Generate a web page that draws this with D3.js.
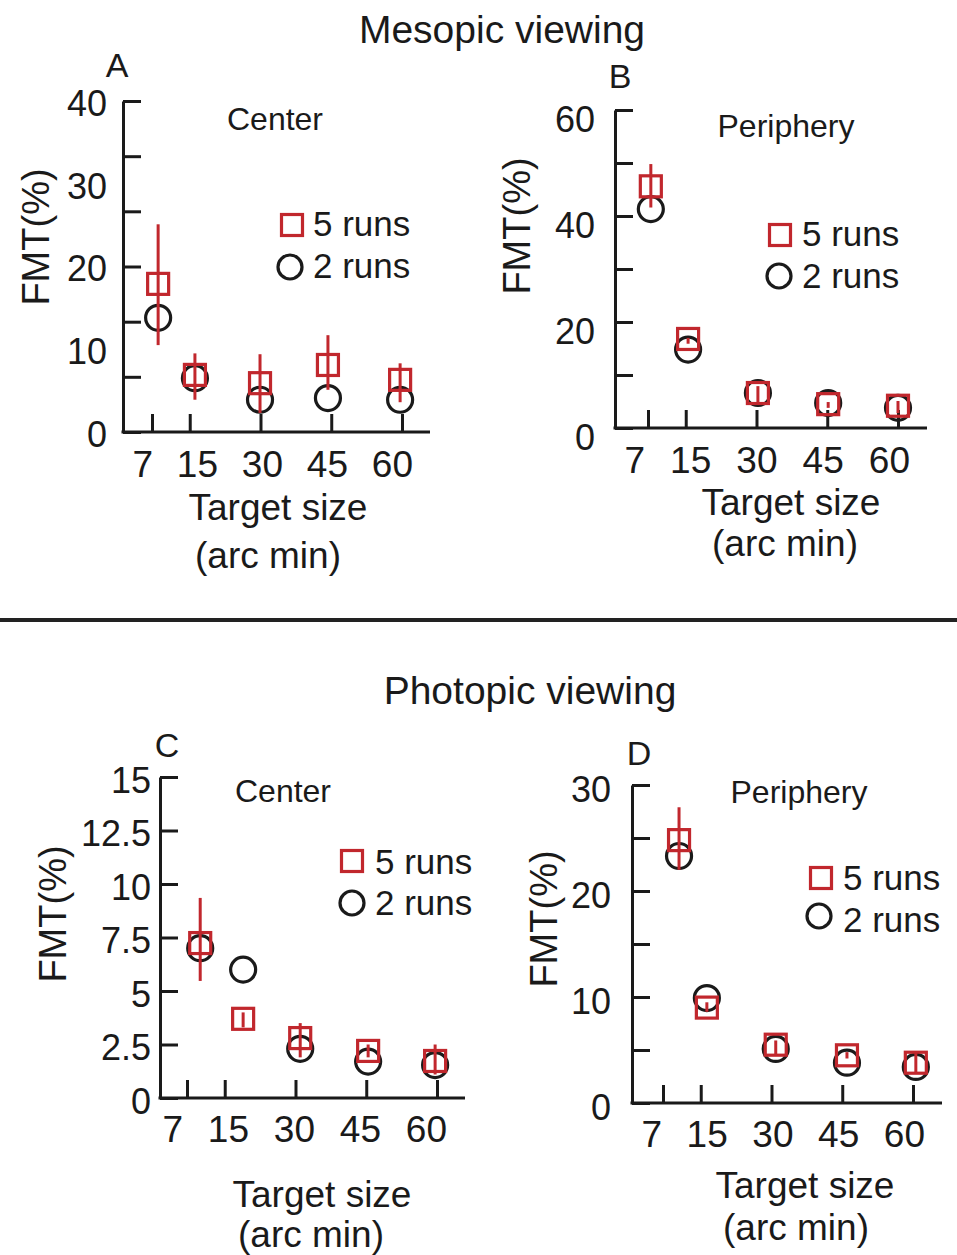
<!DOCTYPE html>
<html lang="en">
  <head>
    <meta charset="UTF-8" />
    <title>FMT vs target size</title>
    <script src="https://d3js.org/d3.v7.min.js"></script>
    <style>
      body { margin: 0; background: #fff; }
      svg text { font-family: 'Liberation Sans', Arial, Helvetica, sans-serif; fill: #1a1a1a; }
    </style>
  </head>
  <body>
    <div id="chart"></div>
    <script>
      // target sizes (arc min) and their tick labels
      const sizes = [7, 15, 30, 45, 60];
      const sizeLabels = ['7', '15', '30', '45', '60'];

      // A: mesopic, center
      const aFive = [17.9, 6.9, 5.9, 8.1, 6.3];
      const aFiveHi = [25.1, 9.5, 9.4, 11.7, 8.3];
      const aFiveLo = [10.5, 3.9, 2.3, 5.1, 3.6];
      const aTwo = [13.8, 6.5, 3.9, 4.1, 3.9];
      const aShownX = [8.3, 16.1, 29.9, 44.3, 59.6];
      const aTicks = [0, 6.67, 13.33, 20, 26.67, 33.33, 40];
      const aLabels = ['0', '10', '20', '30', '40'];

      // B: mesopic, periphery
      const bFive = [45.6, 16.8, 6.6, 4.5, 4.2];
      const bFiveHi = [49.8, 17.0, 7.9, 4.9, 5.1];
      const bFiveLo = [41.6, 15.9, 4.7, 3.8, 2.8];
      const bTwo = [41.3, 14.8, 6.6, 4.7, 3.8];
      const bShownX = [7.6, 15.5, 30.3, 45.2, 60];
      const bTicks = [0, 10, 20, 30, 40, 50, 60];
      const bLabels = ['0', '20', '40', '60'];

      // C: photopic, center
      const cFive = [7.24, 3.7, 2.8, 2.2, 1.73];
      const cFiveHi = [9.35, 4.0, 3.5, 2.5, 2.5];
      const cFiveLo = [5.47, 3.3, 1.9, 1.9, 1.1];
      const cTwo = [7.0, 6.0, 2.3, 1.7, 1.54];
      const cShownX = [9.8, 18.9, 31.0, 45.4, 59.6];
      const cTicks = [0, 2.5, 5, 7.5, 10, 12.5, 15];
      const cLabels = ['0', '2.5', '5', '7.5', '10', '12.5', '15'];

      // D: photopic, periphery
      const dFive = [24.8, 9.0, 5.5, 4.5, 3.8];
      const dFiveHi = [27.9, 9.5, 5.9, 4.8, 4.7];
      const dFiveLo = [22.0, 8.6, 4.5, 4.2, 2.9];
      const dTwo = [23.3, 9.9, 5.1, 3.8, 3.4];
      const dShownX = [10.4, 16.3, 30.9, 46.0, 60.6];
      const dTicks = [0, 5, 10, 15, 20, 25, 30];
      const dLabels = ['0', '10', '20', '30'];

      const red = '#c1272d';
      const ink = '#1a1a1a';

      const panels = [
        {
          letter: 'A', sub: 'Center', five: aFive, hi: aFiveHi, lo: aFiveLo, two: aTwo,
          shownX: aShownX, ticks: aTicks, labels: aLabels, yMax: 40,
          left: 123, bottom: 432, top: 101, right: 430, x7: 152, x60: 402,
          yLabRight: 107, yLabDy: 2, xLab0: 153, xLab1: 413, xLabBase: 477,
          t1: [278, 520], t2: [268, 568], fmt: [35, 237], let: [117, 77], subPos: [275, 130],
          leg: { sq: [292, 225], ci: [290, 267], tx: 313, b5: 236, b2: 278 }
        },
        {
          letter: 'B', sub: 'Periphery', five: bFive, hi: bFiveHi, lo: bFiveLo, two: bTwo,
          shownX: bShownX, ticks: bTicks, labels: bLabels, yMax: 60,
          left: 615, bottom: 428, top: 110, right: 927, x7: 648, x60: 898,
          yLabRight: 595, yLabDy: 9, xLab0: 645, xLab1: 910, xLabBase: 473,
          t1: [791, 515], t2: [785, 556], fmt: [516, 226], let: [620, 88], subPos: [786, 137],
          leg: { sq: [780, 235], ci: [779, 276], tx: 802, b5: 246, b2: 288 }
        },
        {
          letter: 'C', sub: 'Center', five: cFive, hi: cFiveHi, lo: cFiveLo, two: cTwo,
          shownX: cShownX, ticks: cTicks, labels: cLabels, yMax: 15,
          left: 160, bottom: 1098, top: 777, right: 465, x7: 187, x60: 437,
          yLabRight: 151, yLabDy: 3, xLab0: 183, xLab1: 447, xLabBase: 1142,
          t1: [322, 1207], t2: [311, 1247], fmt: [52, 914], let: [167, 757], subPos: [283, 802],
          leg: { sq: [352, 861], ci: [352, 903], tx: 375, b5: 874, b2: 915 }
        },
        {
          letter: 'D', sub: 'Periphery', five: dFive, hi: dFiveHi, lo: dFiveLo, two: dTwo,
          shownX: dShownX, ticks: dTicks, labels: dLabels, yMax: 30,
          left: 632, bottom: 1103, top: 785, right: 942, x7: 663, x60: 913,
          yLabRight: 611, yLabDy: 4, xLab0: 662, xLab1: 925, xLabBase: 1147,
          t1: [805, 1198], t2: [796, 1240], fmt: [543, 919], let: [639, 765], subPos: [799, 803],
          leg: { sq: [821, 878], ci: [819, 916], tx: 843, b5: 890, b2: 932 }
        }
      ];

      const svg = d3
        .select('#chart')
        .append('svg')
        .attr('width', 957)
        .attr('height', 1255);

      // section headers and divider
      svg.append('text').attr('x', 502).attr('y', 43).attr('text-anchor', 'middle')
        .style('font-size', '39px').text('Mesopic viewing');
      svg.append('text').attr('x', 530).attr('y', 704).attr('text-anchor', 'middle')
        .style('font-size', '39px').text('Photopic viewing');
      svg.append('line').attr('x1', 0).attr('x2', 957).attr('y1', 620).attr('y2', 620)
        .attr('stroke', '#222').attr('stroke-width', 4);

      panels.forEach((p) => {
        const g = svg.append('g');
        const x = d3.scaleLinear().domain([7, 60]).range([p.x7, p.x60]);
        const y = d3.scaleLinear().domain([0, p.yMax]).range([p.bottom, p.top]);
        const xLab = d3.scalePoint().domain(sizeLabels).range([p.xLab0, p.xLab1]);

        // y axis with inward ticks
        const yAxis = g.append('g')
          .attr('transform', 'translate(' + p.left + ',0)')
          .call(d3.axisRight(y).tickValues(p.ticks).tickSize(18).tickSizeOuter(0).tickFormat(''));
        yAxis.selectAll('path, line').attr('stroke', ink).attr('stroke-width', 3);

        // x axis: base line plus upward ticks
        g.append('line').attr('x1', p.left - 1.5).attr('x2', p.right)
          .attr('y1', p.bottom).attr('y2', p.bottom)
          .attr('stroke', ink).attr('stroke-width', 3);
        const xAxis = g.append('g')
          .attr('transform', 'translate(0,' + p.bottom + ')')
          .call(d3.axisTop(x).tickValues(sizes).tickSize(18).tickFormat(''));
        xAxis.select('.domain').remove();
        xAxis.selectAll('line').attr('stroke', ink).attr('stroke-width', 3);

        // y tick labels
        g.selectAll('.ylab').data(p.labels).enter().append('text')
          .attr('x', p.yLabRight)
          .attr('y', (d) => y(+d) + p.yLabDy)
          .attr('dy', '0.36em')
          .attr('text-anchor', 'end')
          .style('font-size', '36px')
          .text((d) => d);

        // x tick labels
        g.selectAll('.xlab').data(sizeLabels).enter().append('text')
          .attr('x', (d) => xLab(d))
          .attr('y', p.xLabBase)
          .attr('text-anchor', 'end')
          .style('font-size', '37px')
          .text((d) => d);

        // axis titles
        g.append('text').attr('x', p.t1[0]).attr('y', p.t1[1]).attr('text-anchor', 'middle')
          .style('font-size', '37px').text('Target size');
        g.append('text').attr('x', p.t2[0]).attr('y', p.t2[1]).attr('text-anchor', 'middle')
          .style('font-size', '37px').text('(arc min)');
        g.append('text')
          .attr('transform', 'translate(' + p.fmt[0] + ',' + p.fmt[1] + ') rotate(-90)')
          .attr('text-anchor', 'middle').attr('dy', '0.36em')
          .style('font-size', '38px').text('FMT(%)');

        // panel letter and region label
        g.append('text').attr('x', p.let[0]).attr('y', p.let[1]).attr('text-anchor', 'middle')
          .style('font-size', '34px').text(p.letter);
        g.append('text').attr('x', p.subPos[0]).attr('y', p.subPos[1]).attr('text-anchor', 'middle')
          .style('font-size', '32px').text(p.sub);

        const rows = sizes.map((s, i) => ({
          size: s, xs: p.shownX[i], five: p.five[i], hi: p.hi[i], lo: p.lo[i], two: p.two[i]
        }));

        // 2 runs: black circles
        g.selectAll('.two').data(rows).enter().append('circle')
          .attr('cx', (d) => x(d.xs)).attr('cy', (d) => y(d.two)).attr('r', 12.5)
          .attr('fill', 'none').attr('stroke', ink).attr('stroke-width', 3.2);

        // 5 runs: red squares with error bars
        g.selectAll('.five').data(rows).enter().append('rect')
          .attr('x', (d) => x(d.xs) - 10.5).attr('y', (d) => y(d.five) - 10.5)
          .attr('width', 21).attr('height', 21)
          .attr('fill', 'none').attr('stroke', red).attr('stroke-width', 3.2);
        g.selectAll('.err').data(rows).enter().append('line')
          .attr('x1', (d) => x(d.xs)).attr('x2', (d) => x(d.xs))
          .attr('y1', (d) => y(d.hi)).attr('y2', (d) => y(d.lo))
          .attr('stroke', red).attr('stroke-width', 3);

        // legend
        g.append('rect').attr('x', p.leg.sq[0] - 10.5).attr('y', p.leg.sq[1] - 10.5)
          .attr('width', 21).attr('height', 21)
          .attr('fill', 'none').attr('stroke', red).attr('stroke-width', 3.2);
        g.append('circle').attr('cx', p.leg.ci[0]).attr('cy', p.leg.ci[1]).attr('r', 12)
          .attr('fill', 'none').attr('stroke', ink).attr('stroke-width', 3.2);
        g.append('text').attr('x', p.leg.tx).attr('y', p.leg.b5)
          .style('font-size', '35px').text('5 runs');
        g.append('text').attr('x', p.leg.tx).attr('y', p.leg.b2)
          .style('font-size', '35px').text('2 runs');
      });
    </script>
  </body>
</html>
